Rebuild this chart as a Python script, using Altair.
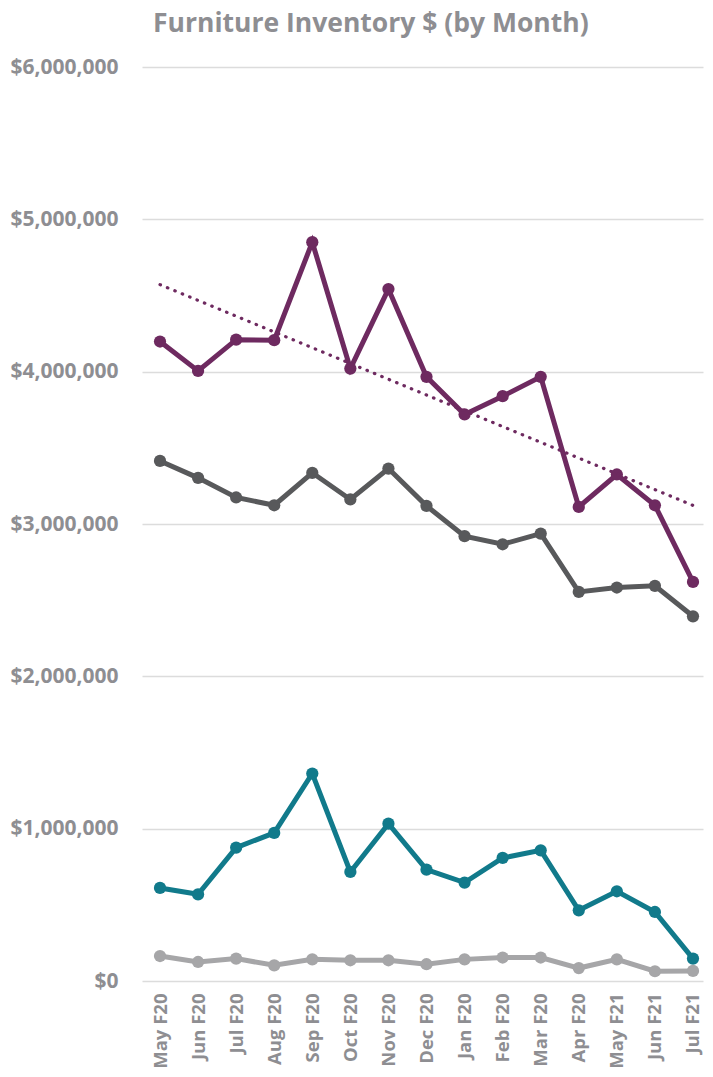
import altair as alt
import pandas as pd

months = ["May F20", "Jun F20", "Jul F20", "Aug F20", "Sep F20", "Oct F20", "Nov F20",
          "Dec F20", "Jan F20", "Feb F20", "Mar F20", "Apr F20", "May F21", "Jun F21", "Jul F21"]

series_names = ["Total", "Series B", "Series C", "Series D"]
series_colors = ["#6E2A60", "#58595B", "#117A8B", "#A6A6A8"]

total = [4198000, 4005000, 4210000, 4207000, 4850000, 4020000, 4542000, 3966000,
         3719000, 3839000, 3966000, 3112000, 3325000, 3123000, 2620000]
series_b = [3414000, 3303000, 3174000, 3123000, 3336000, 3161000, 3364000, 3119000,
            2920000, 2867000, 2937000, 2554000, 2583000, 2594000, 2394000]
series_c = [611000, 569000, 876000, 972000, 1362000, 716000, 1033000, 731000,
            646000, 808000, 858000, 464000, 589000, 453000, 147000]
series_d = [164000, 125000, 147000, 103000, 142000, 136000, 136000, 110000,
            142000, 154000, 154000, 85000, 142000, 64000, 66000]

y_ticks = [0, 1000000, 2000000, 3000000, 4000000, 5000000, 6000000]
title_text = ["Furniture Inventory $ (by Month)"]

rows = []
for name, vals in zip(series_names, [total, series_b, series_c, series_d]):
    for i, (m, v) in enumerate(zip(months, vals)):
        rows.append({"idx": i, "month": m, "series": name, "value": v})
df = pd.DataFrame(rows)

FONT = "Open Sans"
LABEL_COLOR = "#8E8E92"

label_expr = "[" + ",".join("'%s'" % m for m in months) + "][datum.value]"

x_enc = alt.X(
    "idx:Q",
    scale=alt.Scale(domain=[-0.473, 14.263], nice=False, zero=False),
    axis=alt.Axis(
        values=list(range(len(months))),
        labelExpr=label_expr,
        labelAngle=270,
        labelPadding=12,
        labelFontSize=18.5,
        labelFont=FONT,
        labelFontWeight="bold",
        labelColor=LABEL_COLOR,
        ticks=False,
        domain=False,
        grid=False,
        title=None,
    ),
)
y_enc = alt.Y(
    "value:Q",
    scale=alt.Scale(domain=[0, 6000000], nice=False),
    axis=alt.Axis(
        values=y_ticks,
        format="$,.0f",
        labelPadding=24,
        labelFontSize=21,
        labelFont=FONT,
        labelFontWeight="bold",
        labelColor=LABEL_COLOR,
        ticks=False,
        domain=False,
        grid=True,
        gridColor="#DCDCDC",
        gridWidth=1.5,
        title=None,
    ),
)
color_enc = alt.Color(
    "series:N",
    scale=alt.Scale(domain=series_names, range=series_colors),
    legend=None,
)

base = alt.Chart(df)

lines = base.mark_line(strokeWidth=5).encode(
    x=x_enc, y=y_enc, color=color_enc,
    order="idx:Q",
    detail="series:N",
)
points = base.mark_circle(size=150, opacity=1).encode(
    x=x_enc, y=y_enc, color=color_enc,
)

trend = (
    base.transform_filter(alt.datum.series == "Total")
    .transform_regression("idx", "value")
    .mark_line(color="#6E2A60", strokeWidth=3.2, strokeDash=[0.5, 7.5], strokeCap="round")
    .encode(x=x_enc, y=y_enc)
)

title = (
    alt.Chart(pd.DataFrame({"t": title_text}))
    .mark_text(
        align="left", baseline="alphabetic", fontSize=26.5, font=FONT,
        fontWeight="bold", color=LABEL_COLOR,
    )
    .encode(text="t:N", x=alt.value(11), y=alt.value(-35))
)

chart = (
    alt.layer(lines, points, trend, title)
    .properties(
        width=561,
        height=914,
        autosize=alt.AutoSizeParams(type="none"),
        padding={"left": 134, "top": 59, "right": 2, "bottom": 88},
    )
    .configure_view(stroke=None)
)

chart.save("out.html", embed_options={"renderer": "svg", "actions": False})
